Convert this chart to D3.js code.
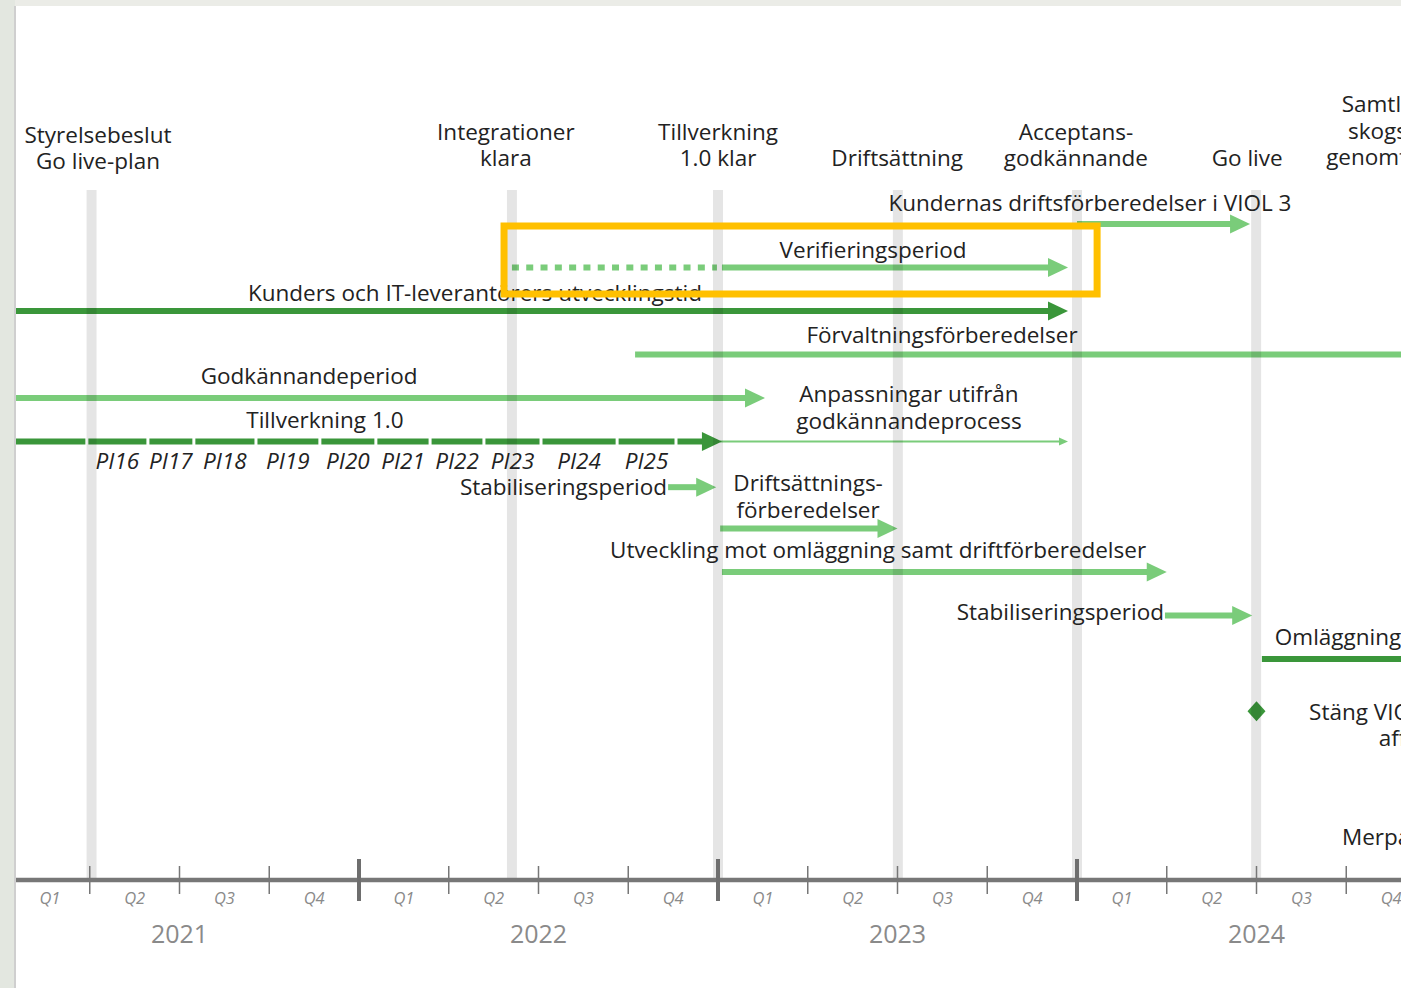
<!DOCTYPE html>
<html><head><meta charset="utf-8">
<script src="https://cdn.jsdelivr.net/npm/d3@7"></script>
<style>
html,body{margin:0;padding:0;background:#ebece7;overflow:hidden}
svg{display:block}
text{font-family:"Open Sans",sans-serif}
</style></head><body>
<svg id="c" width="1401" height="988"></svg>
<script>
// ---------- DATA (decimal years) ----------
const years = [2021, 2022, 2023, 2024];
const quarterLabels = ["Q1", "Q2", "Q3", "Q4"];

const milestones = [
  { date: 2021.255, band: true,  labelAt: 2021.273, label: ["Styrelsebeslut", "Go live-plan"] },
  { date: 2022.426, band: true,  labelAt: 2022.409, label: ["Integrationer", "klara"] },
  { date: 2023.000, band: true,  labelAt: 2023.000, label: ["Tillverkning", "1.0 klar"] },
  { date: 2023.501, band: true,  labelAt: 2023.499, label: ["Driftsättning"] },
  { date: 2024.000, band: true,  labelAt: 2023.997, label: ["Acceptans-", "godkännande"] },
  { date: 2024.499, band: true,  labelAt: 2024.474, label: ["Go live"] },
  { date: 2024.975, band: true,  labelAt: 2024.975, label: ["Samtliga kunder", "skogsbolag har", "genomfört bytet till"] }
];

// lane = row index; tone: light / dark; kind: arrow, thin, dotted, line
const tasks = [
  { kind: "arrow",  tone: "light", lane: 0,    start: 2024.000, end: 2024.482, labelAt: 2024.036, label: ["Kundernas driftsförberedelser i VIOL 3"] },
  { kind: "dotted", tone: "light", lane: 1,    start: 2022.426, end: 2022.997 },
  { kind: "arrow",  tone: "light", lane: 1,    start: 2023.011, end: 2023.975, labelAt: 2023.432, label: ["Verifieringsperiod"] },
  { kind: "arrow",  tone: "dark",  lane: 2,    start: 2020.900, end: 2023.975, labelAt: 2022.323, label: ["Kunders och IT-leverantörers utvecklingstid"] },
  { kind: "line",   tone: "light", lane: 3,    start: 2022.769, end: 2025.300, labelAt: 2023.624, label: ["Förvaltningsförberedelser"] },
  { kind: "arrow",  tone: "light", lane: 4,    start: 2020.900, end: 2023.131, labelAt: 2021.861, label: ["Godkännandeperiod"] },
  { kind: "thin",   tone: "light", lane: 5,    start: 2023.005, end: 2023.975, labelAt: 2023.532, label: ["Anpassningar utifrån", "godkännandeprocess"] },
  { kind: "arrow",  tone: "light", lane: 6.05, start: 2022.861, end: 2022.995, side: "Stabiliseringsperiod" },
  { kind: "arrow",  tone: "light", lane: 7,    start: 2023.006, end: 2023.500, labelAt: 2023.251, label: ["Driftsättnings-", "förberedelser"] },
  { kind: "arrow",  tone: "light", lane: 8,    start: 2023.011, end: 2024.250, labelAt: 2023.446, label: ["Utveckling mot omläggning samt driftförberedelser"] },
  { kind: "arrow",  tone: "light", lane: 9,    start: 2024.245, end: 2024.488, side: "Stabiliseringsperiod" },
  { kind: "line",   tone: "dark",  lane: 10,   start: 2024.515, end: 2025.300, labelStart: 2024.551, label: ["Omläggning av samtliga kunder"] }
];

// Tillverkning 1.0 – program increments
const piBounds = [2020.950, 2021.242, 2021.412, 2021.540, 2021.713, 2021.891, 2022.047, 2022.198, 2022.348, 2022.507, 2022.719, 2022.883];
const piEnd = 2023.011;
const piLane = 5;
const piTitle = { labelAt: 2021.905, text: "Tillverkning 1.0" };
const piLabels = ["PI16", "PI17", "PI18", "PI19", "PI20", "PI21", "PI22", "PI23", "PI24", "PI25"];

const diamonds = [
  { date: 2024.500, lane: 11.2, labelAt: 2024.940, label: ["Stäng VIOL 2 för alla", "affärer"] }
];
const notes = [
  { date: 2024.738, lane: 14.1, text: "Merparten av kunderna" }
];
const highlight = { from: 2022.404, to: 2024.056, laneFrom: 0.046, laneTo: 1.609 };

// ---------- LAYOUT ----------
const W = 1401, H = 988, FS = 22.5;
const C = { light: "#7acc7a", dark: "#3a963a", text: "#222", axis: "#777", axisText: "#8a8a8a", box: "#ffc000" };
const x = d3.scaleLinear().domain([2021, 2025]).range([0, 1436]);
const y = d3.scaleLinear().domain([0, 10]).range([224, 659]);
const axisY = 880, bandTop = 190;
// baseline offset of the last label line relative to its bar
const labelDy = { 0: -13, 2: -9.5, 3: -10, 4: -11.5, 5: -14, 6: -12.5, 8: -10.5, 9: -14, 11: -14 };
const milestoneBase = [169, 166, 166, 166, 166, 166, 165];

const svg = d3.select("#c");
svg.append("rect").attr("width", W).attr("height", H).attr("fill", "#ebece7");
svg.append("rect").attr("x", 0).attr("y", 0).attr("width", 15).attr("height", H).attr("fill", "#e3e7e0");
svg.append("rect").attr("x", 15).attr("y", 6).attr("width", W).attr("height", H).attr("fill", "#fff");
svg.append("line").attr("x1", 15).attr("x2", 15).attr("y1", 6).attr("y2", H).attr("stroke", "#cfcfcf").attr("stroke-width", 2);

const defs = svg.append("defs");
defs.append("clipPath").attr("id", "clip").append("rect").attr("x", 16).attr("y", 6).attr("width", W).attr("height", H);
const g = svg.append("g").attr("clip-path", "url(#clip)");

const gLines = g.append("g"), gBands = g.append("g"), gText = g.append("g"), gTop = g.append("g");

function arrow(sel, x0, x1, yy, color, w, hl, hw) {
  sel.append("line").attr("x1", x0).attr("x2", x1 - hl + 1).attr("y1", yy).attr("y2", yy)
    .attr("stroke", color).attr("stroke-width", w);
  sel.append("path").attr("d", `M${x1 - hl},${yy - hw}L${x1},${yy}L${x1 - hl},${yy + hw}Z`).attr("fill", color);
}
function multiline(sel, lines, xx, lastBaseline, anchor, lh) {
  lines.forEach((t, i) => {
    sel.append("text").attr("x", xx).attr("y", lastBaseline - (lines.length - 1 - i) * lh)
      .attr("text-anchor", anchor).attr("font-size", FS).attr("fill", C.text).text(t);
  });
}

// tasks
tasks.forEach((t, i) => {
  const col = C[t.tone], yy = y(t.lane);
  if (t.kind === "arrow") arrow(gLines, x(t.start), x(t.end), yy, col, 6, 20, 9.5);
  else if (t.kind === "thin") arrow(gLines, x(t.start), x(t.end), yy, col, 2, 9, 4);
  else if (t.kind === "line") gLines.append("line").attr("x1", x(t.start)).attr("x2", x(t.end)).attr("y1", yy).attr("y2", yy).attr("stroke", col).attr("stroke-width", 6);
  else if (t.kind === "dotted") gLines.append("line").attr("x1", x(t.start)).attr("x2", x(t.end)).attr("y1", yy).attr("y2", yy).attr("stroke", col).attr("stroke-width", 6).attr("stroke-dasharray", "7 7.3");
  if (t.label) {
    const dy = labelDy[i] !== undefined ? labelDy[i] : -12;
    if (t.labelStart !== undefined) multiline(gText, t.label, x(t.labelStart), yy + dy, "start", 27);
    else multiline(gText, t.label, x(t.labelAt), yy + dy, "middle", 27);
  }
  if (t.side) {
    gText.append("text").attr("x", x(t.start) - 1).attr("y", yy + (t.lane > 8 ? 4.5 : 8)).attr("text-anchor", "end")
      .attr("font-size", FS).attr("fill", C.text).text(t.side);
  }
});

// PI dashed line
const py = y(piLane);
for (let i = 0; i < piBounds.length; i++) {
  const a = x(piBounds[i]) + 1.5;
  const b = i < piBounds.length - 1 ? x(piBounds[i + 1]) - 1.5 : x(piEnd) - 19;
  gLines.append("line").attr("x1", a).attr("x2", b).attr("y1", py).attr("y2", py).attr("stroke", C.dark).attr("stroke-width", 6);
}
gLines.append("path").attr("d", `M${x(piEnd) - 20},${py - 9.5}L${x(piEnd)},${py}L${x(piEnd) - 20},${py + 9.5}Z`).attr("fill", C.dark);
gText.append("text").attr("x", x(piTitle.labelAt)).attr("y", py - 13.5).attr("text-anchor", "middle")
  .attr("font-size", FS).attr("fill", C.text).text(piTitle.text);
piLabels.forEach((p, i) => {
  const cx = (x(piBounds[i + 1]) + x(piBounds[i + 2] !== undefined ? piBounds[i + 2] : piEnd)) / 2;
  gText.append("text").attr("x", cx).attr("y", py + 27.5).attr("text-anchor", "middle")
    .attr("font-size", FS).attr("font-style", "italic").attr("fill", C.text).text(p);
});

// diamonds
diamonds.forEach(d => {
  const cx = x(d.date), cy = y(d.lane);
  gLines.append("path").attr("d", `M${cx},${cy - 10}L${cx + 9},${cy}L${cx},${cy + 10}L${cx - 9},${cy}Z`).attr("fill", C.dark);
  multiline(gText, d.label, x(d.labelAt), cy + 35, "middle", 26);
});
notes.forEach(n => {
  gText.append("text").attr("x", x(n.date)).attr("y", y(n.lane) + 8).attr("text-anchor", "start")
    .attr("font-size", FS).attr("fill", C.text).text(n.text);
});

// bands
milestones.filter(m => m.band).forEach(m => {
  gBands.append("rect").attr("x", x(m.date) - 5).attr("y", bandTop).attr("width", 10)
    .attr("height", axisY + 2 - bandTop).attr("fill", "#000").attr("fill-opacity", 0.1);
});
milestones.forEach((m, i) => multiline(gText, m.label, x(m.labelAt), milestoneBase[i], "middle", 26.5));

// axis
gTop.append("line").attr("x1", 0).attr("x2", W).attr("y1", axisY).attr("y2", axisY).attr("stroke", C.axis).attr("stroke-width", 4.5);
years.forEach(yr => {
  if (yr > 2021) gTop.append("line").attr("x1", x(yr)).attr("x2", x(yr)).attr("y1", axisY - 21).attr("y2", axisY + 21).attr("stroke", "#6e6e6e").attr("stroke-width", 4);
  [1, 2, 3].forEach(q => gTop.append("line").attr("x1", x(yr + q / 4)).attr("x2", x(yr + q / 4)).attr("y1", axisY - 14).attr("y2", axisY + 14).attr("stroke", C.axis).attr("stroke-width", 1.5));
  quarterLabels.forEach((ql, q) => {
    gTop.append("text").attr("x", x(yr + (q + 0.5) / 4) + (yr === 2021 && q === 0 ? 5 : 0)).attr("y", axisY + 24)
      .attr("text-anchor", "middle").attr("font-size", 16.5).attr("font-style", "italic").attr("fill", C.axisText).text(ql);
  });
  gTop.append("text").attr("x", x(yr + 0.5)).attr("y", axisY + 63).attr("text-anchor", "middle")
    .attr("font-size", 25).attr("fill", C.axisText).text(yr);
});

// highlight box
gTop.append("rect").attr("x", x(highlight.from)).attr("y", y(highlight.laneFrom))
  .attr("width", x(highlight.to) - x(highlight.from)).attr("height", y(highlight.laneTo) - y(highlight.laneFrom))
  .attr("fill", "none").attr("stroke", C.box).attr("stroke-width", 7);
</script>
</body></html>
